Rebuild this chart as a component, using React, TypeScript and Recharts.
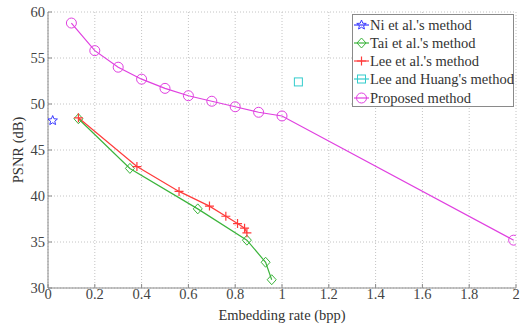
import React from 'react'
import {
  LineChart,
  Line,
  XAxis,
  YAxis,
  CartesianGrid,
} from 'recharts'

// values
const niX = [0.02]
const niY = [48.2]

const taiX = [0.13, 0.35, 0.64, 0.85, 0.93, 0.956]
const taiY = [48.4, 43.0, 38.6, 35.2, 32.8, 30.9]

const leeX = [0.13, 0.38, 0.56, 0.69, 0.76, 0.81, 0.84, 0.85]
const leeY = [48.5, 43.2, 40.5, 38.9, 37.8, 37.0, 36.5, 36.0]

const lhX = [1.07]
const lhY = [52.4]

const propX = [0.1, 0.2, 0.3, 0.4, 0.5, 0.6, 0.7, 0.8, 0.9, 1.0, 1.99]
const propY = [58.8, 55.8, 54.0, 52.7, 51.7, 50.9, 50.3, 49.7, 49.1, 48.7, 35.2]

const xTicks = [0, 0.2, 0.4, 0.6, 0.8, 1, 1.2, 1.4, 1.6, 1.8, 2]
const yTicks = [30, 35, 40, 45, 50, 55, 60]

const legendNames = [
  "Ni et al.'s method",
  "Tai et al.'s method",
  "Lee et al.'s method",
  "Lee and Huang's method",
  'Proposed method',
]

const zip = (xs: number[], ys: number[]) => xs.map((x, i) => ({ x, y: ys[i] }))

const FONT = 'Liberation Serif'
const FS = 14.5
const AXIS = '#8a8a8a'

type Kind = 'star' | 'diamond' | 'plus' | 'square' | 'circle'

const COLORS: Record<Kind, string> = {
  star: '#3a3aff',
  diamond: '#3cb43c',
  plus: '#ff3b3b',
  square: '#33cccc',
  circle: '#e040e0',
}

function markerShape(kind: Kind, cx: number, cy: number, key?: string) {
  const c = COLORS[kind]
  if (kind === 'star') {
    const pts: string[] = []
    for (let i = 0; i < 10; i++) {
      const r = i % 2 === 0 ? 5 : 2.2
      const a = -Math.PI / 2 + (i * Math.PI) / 5
      pts.push(`${cx + r * Math.cos(a)},${cy + r * Math.sin(a)}`)
    }
    return <polygon key={key} points={pts.join(' ')} fill="none" stroke={c} strokeWidth={1} />
  }
  if (kind === 'diamond') {
    return (
      <polygon
        key={key}
        points={`${cx},${cy - 5} ${cx + 4.5},${cy} ${cx},${cy + 5} ${cx - 4.5},${cy}`}
        fill="none"
        stroke={c}
        strokeWidth={1}
      />
    )
  }
  if (kind === 'plus') {
    return (
      <path
        key={key}
        d={`M${cx - 4.5},${cy}H${cx + 4.5}M${cx},${cy - 4.5}V${cy + 4.5}`}
        stroke={c}
        strokeWidth={1.2}
      />
    )
  }
  if (kind === 'square') {
    return <rect key={key} x={cx - 4} y={cy - 4} width={8} height={8} fill="none" stroke={c} strokeWidth={1} />
  }
  return <circle key={key} cx={cx} cy={cy} r={5} fill="none" stroke={c} strokeWidth={1} />
}

const dotFor = (kind: Kind) => (p: any) => markerShape(kind, p.cx, p.cy, `${kind}-${p.index}`)

const kinds: Kind[] = ['star', 'diamond', 'plus', 'square', 'circle']

function LegendBox() {
  return (
    <div
      style={{
        position: 'absolute',
        left: 352,
        top: 14,
        width: 160,
        height: 91,
        background: '#fff',
        border: `1px solid ${AXIS}`,
        fontFamily: FONT,
        fontSize: FS,
        color: '#333',
      }}
    >
      {legendNames.map((name, i) => (
        <div
          key={name}
          style={{ position: 'absolute', left: 0, top: 0.5 + i * 18.3, height: 18, display: 'flex', alignItems: 'center', whiteSpace: 'nowrap', lineHeight: '18px' }}
        >
          <svg width={17} height={18} style={{ display: 'block' }}>
            <line x1={1} y1={9} x2={16} y2={9} stroke={COLORS[kinds[i]]} strokeWidth={1.2} />
            {markerShape(kinds[i], 8.5, 9)}
          </svg>
          <span>{name}</span>
        </div>
      ))}
    </div>
  )
}

export default function App() {
  const tickStyle = { fontSize: FS, fill: '#444', fontFamily: FONT }
  return (
    <div style={{ position: 'absolute', left: 0, top: 0, width: 522, height: 326, background: '#fff', fontFamily: FONT }}>
      <LineChart
        width={522}
        height={326}
        margin={{ top: 12, right: 6, bottom: 16, left: 0 }}
        style={{ fontFamily: FONT }}
      >
        <CartesianGrid stroke="#c4c4c4" strokeDasharray="1 2" xAxisId="bottom" yAxisId="left" />
        <XAxis
          xAxisId="bottom"
          type="number"
          dataKey="x"
          domain={[0, 2]}
          ticks={xTicks}
          allowDataOverflow
          tick={tickStyle}
          stroke={AXIS}
          tickSize={-4}
          tickMargin={5}
          height={22}
          label={{ value: 'Embedding rate (bpp)', position: 'insideBottom', offset: -10, style: { fontSize: FS, fill: '#333', fontFamily: FONT } }}
        />
        <XAxis xAxisId="top" orientation="top" type="number" dataKey="x" domain={[0, 2]} ticks={xTicks} stroke={AXIS} tick={false} height={0} />
        <YAxis
          yAxisId="left"
          type="number"
          domain={[30, 60]}
          ticks={yTicks}
          allowDataOverflow
          tick={tickStyle}
          stroke={AXIS}
          tickSize={-4}
          tickMargin={7}
          width={48}
          label={{ value: 'PSNR (dB)', angle: -90, position: 'insideLeft', offset: 18, style: { fontSize: FS, fill: '#333', fontFamily: FONT, textAnchor: 'middle' } }}
        />
        <YAxis yAxisId="right" orientation="right" type="number" domain={[30, 60]} ticks={yTicks} stroke={AXIS} tick={false} width={0} />

        <Line xAxisId="bottom" yAxisId="left" data={zip(propX, propY)} dataKey="y" stroke={COLORS.circle} strokeWidth={1.2} dot={dotFor('circle')} isAnimationActive={false} />
        <Line xAxisId="bottom" yAxisId="left" data={zip(taiX, taiY)} dataKey="y" stroke={COLORS.diamond} strokeWidth={1.2} dot={dotFor('diamond')} isAnimationActive={false} />
        <Line xAxisId="bottom" yAxisId="left" data={zip(leeX, leeY)} dataKey="y" stroke={COLORS.plus} strokeWidth={1.2} dot={dotFor('plus')} isAnimationActive={false} />
        <Line xAxisId="bottom" yAxisId="left" data={zip(niX, niY)} dataKey="y" stroke={COLORS.star} dot={dotFor('star')} isAnimationActive={false} />
        <Line xAxisId="bottom" yAxisId="left" data={zip(lhX, lhY)} dataKey="y" stroke={COLORS.square} dot={dotFor('square')} isAnimationActive={false} />
      </LineChart>
      <LegendBox />
    </div>
  )
}
